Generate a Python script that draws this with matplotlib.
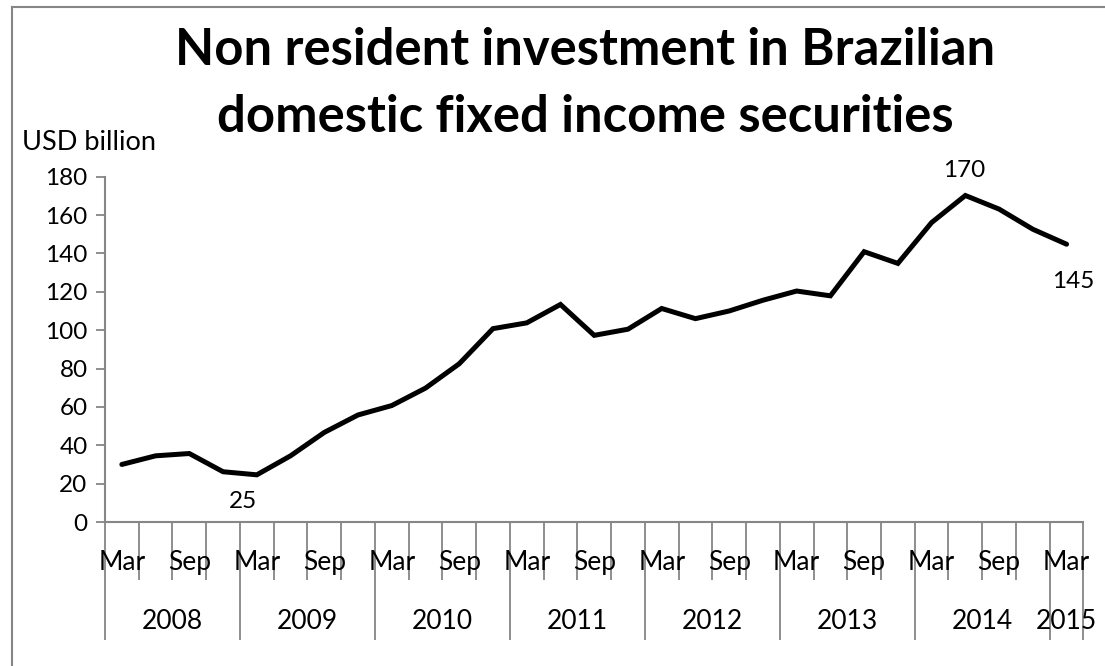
"""Non resident investment in Brazilian domestic fixed income securities."""

import matplotlib
matplotlib.use("Agg")
import matplotlib.pyplot as plt
from matplotlib.lines import Line2D

# ---------------------------------------------------------------------------
# Data (USD billion, quarterly, Mar 2008 - Mar 2015)
# ---------------------------------------------------------------------------

QUARTERS = ["Mar", "Jun", "Sep", "Dec"] * 7 + ["Mar"]
YEARS = ["2008", "2009", "2010", "2011", "2012", "2013", "2014", "2015"]
QUARTERS_PER_YEAR = [4, 4, 4, 4, 4, 4, 4, 1]
VALUES = [30.0, 34.5, 35.7, 26.2,
          24.6, 34.5, 46.7, 55.8,
          60.7, 69.8, 82.5, 100.8,
          103.8, 113.4, 97.3, 100.5,
          111.3, 106.0, 110.0, 115.6,
          120.4, 117.9, 140.9, 134.8,
          156.1, 170.2, 163.1, 152.6,
          144.8]
Y_TICKS = [0, 20, 40, 60, 80, 100, 120, 140, 160, 180]
TITLE_LINES = ["Non resident investment in Brazilian",
               "domestic fixed income securities"]

# point index -> (label, offset in points)
POINT_LABELS = {4: ("25", (-10, -19)), 25: ("170", (-1, 18)), 28: ("145", (5, -27))}

GRAY = "#868686"
FONT = "Lato"

plt.rcParams["font.family"] = [FONT, "DejaVu Sans"]

fig = plt.figure(figsize=(11.05, 6.66), dpi=100)
ax = fig.add_axes([0.095, 0.2162, 0.8855, 0.5185])

n = len(VALUES)
xs = [i + 0.5 for i in range(n)]
ax.plot(xs, VALUES, color="black", linewidth=3.6, solid_joinstyle="miter",
        solid_capstyle="round")

ax.set_xlim(0, n)
ax.set_ylim(0, 180)
ax.set_yticks(Y_TICKS)
ax.set_yticklabels([str(v) for v in Y_TICKS], fontsize=17.5)
ax.tick_params(axis="y", length=6.5, width=1.3, color=GRAY, pad=6)

for side in ("top", "right"):
    ax.spines[side].set_visible(False)
for side in ("left", "bottom"):
    ax.spines[side].set_color(GRAY)
    ax.spines[side].set_linewidth(1.5)

# Two-level category axis: quarter ticks + year separators
year_edges = [0]
for k in QUARTERS_PER_YEAR:
    year_edges.append(year_edges[-1] + k)
ax.set_xticks([i for i in range(n + 1) if i not in year_edges], minor=True)
ax.set_xticks(year_edges)
ax.set_xticklabels([])
ax.tick_params(axis="x", which="minor", length=42, width=1.3, color=GRAY)
ax.tick_params(axis="x", which="major", length=85, width=1.3, color=GRAY)

xaxis_tr = ax.get_xaxis_transform()
for i, q in enumerate(QUARTERS):
    if q in ("Mar", "Sep"):
        ax.annotate(q, xy=(i + 0.5, 0), xycoords=xaxis_tr, xytext=(0, -29),
                    textcoords="offset points", ha="center", va="center",
                    fontsize=19)
for y, lo, hi in zip(YEARS, year_edges[:-1], year_edges[1:]):
    ax.annotate(y, xy=((lo + hi) / 2, 0), xycoords=xaxis_tr, xytext=(0, -71.5),
                textcoords="offset points", ha="center", va="center",
                fontsize=19)

for idx, (text, off) in POINT_LABELS.items():
    ax.annotate(text, xy=(xs[idx], VALUES[idx]), xytext=off,
                textcoords="offset points", ha="center", va="center",
                fontsize=17.5)

# Title: two lines placed on their baselines
for line, base_px in zip(TITLE_LINES, (65, 132)):
    fig.text(585 / 1105, 1 - base_px / 666, line, ha="center", va="baseline",
             fontsize=36.5, fontweight="bold")
fig.text(22 / 1105, 1 - 142 / 666, "USD billion", ha="left", va="center", fontsize=19.5)

# Chart area border (only left and top edges fall inside the picture)
bx, by = 12 / 1105, 1 - 7 / 666
fig.add_artist(Line2D([bx, bx], [0, by], transform=fig.transFigure, color=GRAY, linewidth=1.5))
fig.add_artist(Line2D([bx, 1], [by, by], transform=fig.transFigure, color=GRAY, linewidth=1.5))

fig.savefig("out.png", dpi=100)
